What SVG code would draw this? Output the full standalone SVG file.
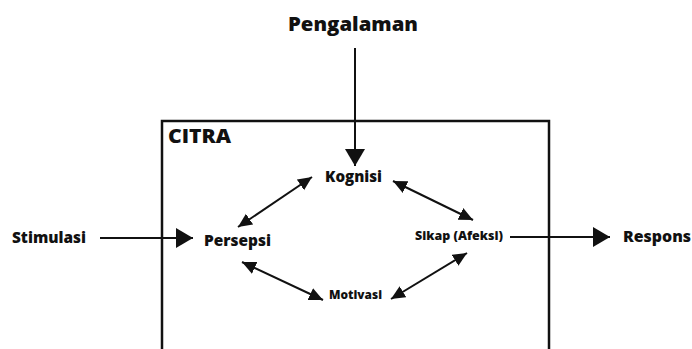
<svg xmlns="http://www.w3.org/2000/svg" width="692" height="349" viewBox="0 0 692 349">
<style>
  .t { font-family: "Open Sans", "Liberation Sans", sans-serif; font-weight: 800; fill: #111; }
  .c { stroke: #111; stroke-width: 2; fill: none; }
  .box { stroke: #111; stroke-width: 2.5; fill: none; }
</style>
<defs>
  <marker id="big" markerUnits="userSpaceOnUse" markerWidth="18" markerHeight="21" refX="17" refY="10" orient="auto">
    <path d="M0,0 L17,10 L0,20 z" fill="#111"/>
  </marker>
  <marker id="small" markerUnits="userSpaceOnUse" markerWidth="15" markerHeight="14" refX="14" refY="6.5" orient="auto-start-reverse">
    <path d="M0,0 L14,6.5 L0,13 z" fill="#111"/>
  </marker>
</defs>
<rect width="692" height="349" fill="#fff"/>
<g id="citra">
  <rect class="box" x="162" y="121" width="387" height="260"/>
  <text class="t" x="168" y="143" font-size="19" textLength="63" lengthAdjust="spacingAndGlyphs">CITRA</text>
</g>
<g id="pengalaman"><text class="t" x="288" y="31" font-size="20" textLength="130" lengthAdjust="spacingAndGlyphs">Pengalaman</text></g>
<g id="stimulasi"><text class="t" x="12" y="243" font-size="15" textLength="74" lengthAdjust="spacingAndGlyphs">Stimulasi</text></g>
<g id="respons"><text class="t" x="623" y="242" font-size="15" textLength="68" lengthAdjust="spacingAndGlyphs">Respons</text></g>
<g id="kognisi"><text class="t" x="325" y="182" font-size="15" textLength="57" lengthAdjust="spacingAndGlyphs">Kognisi</text></g>
<g id="persepsi"><text class="t" x="204" y="246" font-size="15" textLength="67" lengthAdjust="spacingAndGlyphs">Persepsi</text></g>
<g id="sikap"><text class="t" x="415" y="240" font-size="12.5" textLength="88" lengthAdjust="spacingAndGlyphs">Sikap (Afeksi)</text></g>
<g id="motivasi"><text class="t" x="329" y="299" font-size="13" textLength="53" lengthAdjust="spacingAndGlyphs">Motivasi</text></g>
<g id="connectors">
  <line class="c" x1="355" y1="48" x2="355" y2="166" marker-end="url(#big)"/>
  <line class="c" x1="100" y1="238" x2="193" y2="238" marker-end="url(#big)"/>
  <line class="c" x1="510" y1="237" x2="610" y2="237" marker-end="url(#big)"/>
  <line class="c" x1="238" y1="227" x2="312" y2="177" marker-start="url(#small)" marker-end="url(#small)"/>
  <line class="c" x1="393" y1="181" x2="473" y2="220" marker-start="url(#small)" marker-end="url(#small)"/>
  <line class="c" x1="242" y1="262" x2="323" y2="300" marker-start="url(#small)" marker-end="url(#small)"/>
  <line class="c" x1="391" y1="299" x2="467" y2="253" marker-start="url(#small)" marker-end="url(#small)"/>
</g>
</svg>
